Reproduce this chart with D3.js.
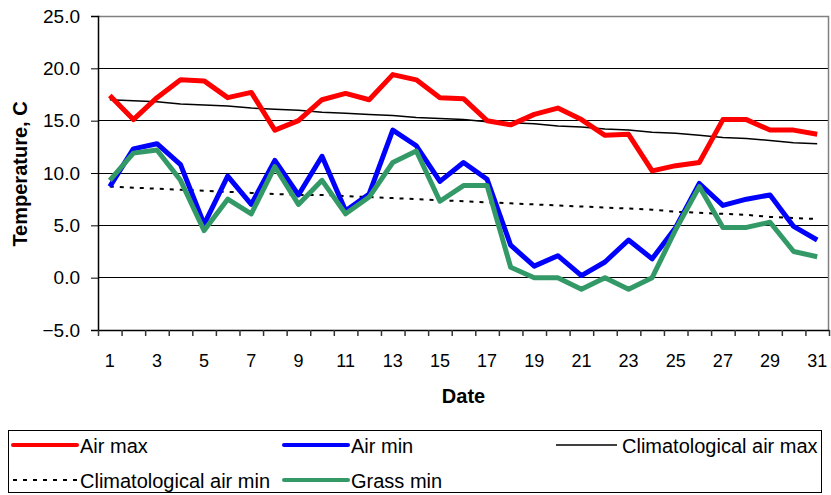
<!DOCTYPE html>
<html>
<head>
<meta charset="utf-8">
<style>
  body { margin: 0; background: #fff; }
  text { font-family: "Liberation Sans", Arial, sans-serif; }
</style>
</head>
<body>
<div id="chart"></div>
<script src="https://cdn.jsdelivr.net/npm/d3@7"></script>
<script>
// Data (temperatures in C, days 1..31)
var days = d3.range(1, 32);
var airMax = [17.4, 15.1, 17.2, 18.9, 18.8, 17.2, 17.7, 14.1, 15.0, 17.0, 17.6, 17.0, 19.4, 18.9, 17.2, 17.1,
              15.0, 14.6, 15.6, 16.2, 15.1, 13.6, 13.7, 10.2, 10.7, 11.0, 15.1, 15.1, 14.1, 14.1, 13.7];
var airMin = [8.7, 12.3, 12.8, 10.8, 5.1, 9.7, 7.0, 11.2, 7.9, 11.6, 6.4, 8.0, 14.1, 12.6, 9.2, 11.0,
              9.4, 3.1, 1.1, 2.1, 0.2, 1.5, 3.6, 1.8, 4.8, 9.0, 6.9, 7.5, 7.9, 4.9, 3.6];
var grassMin = [9.3, 11.9, 12.2, 9.3, 4.5, 7.5, 6.1, 10.6, 7.0, 9.3, 6.1, 7.7, 11.0, 12.1, 7.3, 8.8,
                8.8, 1.0, 0.0, 0.0, -1.1, 0.0, -1.1, 0.0, 4.6, 8.7, 4.8, 4.8, 5.3, 2.5, 2.0];
var climMax = [17.0, 16.9, 16.8, 16.6, 16.5, 16.4, 16.2, 16.1, 16.0, 15.8, 15.7, 15.6, 15.5, 15.3, 15.2, 15.1,
               14.9, 14.8, 14.7, 14.5, 14.4, 14.2, 14.1, 13.9, 13.8, 13.6, 13.4, 13.3, 13.1, 12.9, 12.8];
var climMin = [8.7, 8.6, 8.5, 8.4, 8.3, 8.2, 8.1, 8.0, 7.9, 7.9, 7.8, 7.7, 7.6, 7.5, 7.4, 7.3,
               7.2, 7.1, 7.0, 6.9, 6.8, 6.7, 6.6, 6.5, 6.3, 6.2, 6.1, 6.0, 5.8, 5.7, 5.6];
var yTicks = [-5, 0, 5, 10, 15, 20, 25];

// Series styles (legend order)
var series = [
  {name: "Air max", values: airMax, color: "#ff0000", width: 5, dash: null},
  {name: "Air min", values: airMin, color: "#0000ff", width: 5, dash: null},
  {name: "Climatological air max", values: climMax, color: "#000000", width: 1.5, dash: null},
  {name: "Climatological air min", values: climMin, color: "#000000", width: 2, dash: "4,6"},
  {name: "Grass min", values: grassMin, color: "#339966", width: 5, dash: null}
];

var W = 831, H = 495;
var plot = {left: 98, right: 829, top: 16, bottom: 330};

var svg = d3.select("#chart").append("svg")
  .attr("width", W).attr("height", H);

var x = d3.scaleBand().domain(days).range([plot.left, plot.right]).padding(0);
var xEdge = d3.scaleLinear().domain([0, 31]).range([plot.left, plot.right]);
var y = d3.scaleLinear().domain([-5, 25]).range([plot.bottom, plot.top]);

// gridlines
svg.append("g")
  .selectAll("line")
  .data(yTicks.filter(function(d) { return d > -5 && d < 25; }))
  .enter().append("line")
  .attr("x1", plot.left).attr("x2", plot.right)
  .attr("y1", function(d) { return y(d); }).attr("y2", function(d) { return y(d); })
  .attr("stroke", "#000").attr("stroke-width", 1).attr("shape-rendering", "crispEdges");

// plot area border (top and right)
svg.append("path")
  .attr("d", "M" + plot.left + "," + (plot.top + 0.5) + "H" + (plot.right - 0.5) + "V" + plot.bottom)
  .attr("fill", "none").attr("stroke", "#808080").attr("stroke-width", 1.5);

// y axis
var yAxis = svg.append("g")
  .attr("transform", "translate(" + plot.left + ",0)")
  .call(d3.axisLeft(y).tickValues(yTicks).tickFormat(d3.format(".1f")).tickSize(7).tickPadding(11));
yAxis.selectAll("text").style("font-size", "19px").attr("fill", "#000");
yAxis.select(".domain").attr("stroke", "#000").attr("stroke-width", 1.5);
yAxis.selectAll(".tick line").attr("stroke", "#000");

// x axis: labels on odd days, tick marks at category edges
var xAxis = svg.append("g")
  .attr("transform", "translate(0," + plot.bottom + ")")
  .call(d3.axisBottom(x)
    .tickFormat(function(d) { return d % 2 === 1 ? d : ""; })
    .tickSize(0).tickPadding(24));
xAxis.selectAll("text").style("font-size", "18px").attr("fill", "#000");
xAxis.select(".domain").remove();

var xTicks = svg.append("g")
  .attr("transform", "translate(0," + plot.bottom + ")")
  .call(d3.axisBottom(xEdge).tickValues(d3.range(0, 32)).tickFormat("").tickSizeInner(6).tickSizeOuter(0));
xTicks.select(".domain").attr("stroke", "#000").attr("stroke-width", 1.5);
xTicks.selectAll(".tick line").attr("stroke", "#333").attr("stroke-width", 1.5);

// series lines
var line = d3.line()
  .x(function(d, i) { return x(days[i]) + x.bandwidth() / 2; })
  .y(function(d) { return y(d); });

// draw thin climatological lines first, then thick ones in picture order
var drawOrder = [2, 3, 0, 1, 4];
drawOrder.forEach(function(k) {
  var s = series[k];
  svg.append("path")
    .datum(s.values)
    .attr("d", line)
    .attr("fill", "none")
    .attr("stroke", s.color)
    .attr("stroke-width", s.width)
    .attr("stroke-linejoin", "round")
    .attr("stroke-dasharray", s.dash);
});

// axis titles
svg.append("text")
  .attr("transform", "translate(27," + ((plot.top + plot.bottom) / 2 + 1) + ") rotate(-90)")
  .attr("text-anchor", "middle")
  .style("font-size", "20px").style("font-weight", "bold")
  .text("Temperature, C");

svg.append("text")
  .attr("x", (plot.left + plot.right) / 2).attr("y", 403)
  .attr("text-anchor", "middle")
  .style("font-size", "20px").style("font-weight", "bold")
  .text("Date");

// legend
svg.append("rect")
  .attr("x", 8.5).attr("y", 430.5).attr("width", 813).attr("height", 62)
  .attr("fill", "#fff").attr("stroke", "#000").attr("stroke-width", 1);

var legendPos = [
  {x: 13, y: 445}, {x: 284, y: 445}, {x: 556, y: 445},
  {x: 13, y: 480}, {x: 284, y: 480}
];
var lg = svg.append("g").selectAll("g")
  .data(series)
  .enter().append("g")
  .attr("transform", function(d, i) { return "translate(" + legendPos[i].x + "," + legendPos[i].y + ")"; });

lg.append("line")
  .attr("x1", 0).attr("x2", function(d, i) { return i === 2 ? 61 : 64; })
  .attr("y1", 0).attr("y2", 0)
  .attr("stroke", function(d) { return d.color; })
  .attr("stroke-width", function(d) { return d.width === 5 ? 4 : d.width; })
  .attr("stroke-linecap", function(d) { return d.width === 5 ? "round" : "butt"; })
  .attr("stroke-dasharray", function(d) { return d.dash; });

lg.append("text")
  .attr("x", function(d, i) { return i === 2 ? 66 : 67; })
  .attr("y", 1).attr("dy", "0.35em")
  .style("font-size", "20px")
  .text(function(d) { return d.name; });
</script>
</body>
</html>
